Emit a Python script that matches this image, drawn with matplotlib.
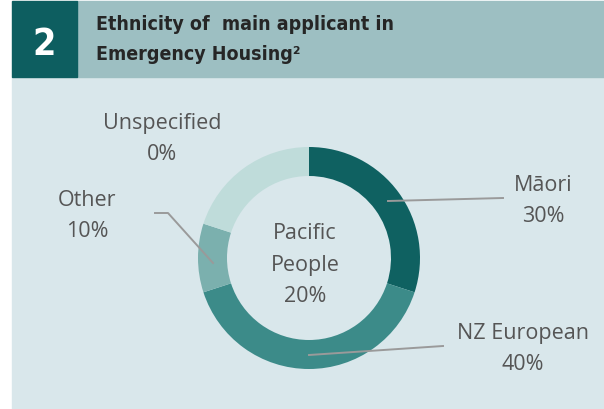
import matplotlib.pyplot as plt
from matplotlib.patches import Rectangle

# ethnicity shares, clockwise from 12 o'clock
groups = ['Māori', 'NZ European', 'Other', 'Pacific People', 'Unspecified']
shares = [30, 40, 10, 20, 0]
colours = ['#0f6161', '#3c8b89', '#7bb0ae', '#bfdcda', '#dce9ec']

title_lines = ['Ethnicity of  main applicant in', 'Emergency Housing²']
fig_no = '2'

W, H = 604, 409
fig = plt.figure(figsize=(W / 100, H / 100), dpi=100)
ax = fig.add_axes([0, 0, 1, 1])
ax.set_xlim(0, W)
ax.set_ylim(0, H)
ax.axis('off')

def Y(y):
    return H - y

# panel + header
ax.add_patch(Rectangle((12, 0), W - 12, Y(77), color='#d9e7eb', zorder=0))
ax.add_patch(Rectangle((77, Y(77)), W - 77, 76, color='#9dbfc2', zorder=0))
ax.add_patch(Rectangle((12, Y(77)), 65, 76, color='#0d5e60', zorder=0))

ax.text(44, Y(45), fig_no, color='white', fontsize=27, fontweight='bold',
        fontstretch='condensed', ha='center', va='center', family='DejaVu Sans')
for i, line in enumerate(title_lines):
    ax.text(96, Y(25 + 30 * i), line, color='#262626', fontsize=14,
            fontweight='bold', fontstretch='condensed',
            ha='left', va='center', family='DejaVu Sans')

cx, cy = 309, Y(258)
wedges, _ = ax.pie(shares, colors=colours, startangle=90, counterclock=False,
                   center=(cx, cy), radius=111,
                   wedgeprops=dict(width=29, linewidth=0))
ax.set_xlim(0, W)
ax.set_ylim(0, H)
ax.set_aspect('auto')

txt = dict(color='#555555', fontsize=15.5, ha='center', va='center',
           family=['Open Sans', 'DejaVu Sans'], linespacing=1.65)

def label(i, x, y):
    ax.text(x, Y(y), f'{groups[i]}\n{shares[i]}%', **txt)

lc = dict(color='#9a9a9a', lw=1.4, zorder=5)
# Māori
ax.plot([388, 503], [Y(201), Y(198)], **lc)
label(0, 543, 201)
# NZ European
ax.plot([309, 443], [Y(355), Y(346)], **lc)
label(1, 523, 349)
# Other
ax.plot([155, 168, 213], [Y(213), Y(213), Y(263)], **lc)
label(2, 87, 216)
# Unspecified (no slice)
label(4, 162, 139)
# Pacific People in the hole
ax.text(cx - 4, Y(265), 'Pacific\nPeople\n20%', **txt)

fig.savefig('out.png', dpi=100)
